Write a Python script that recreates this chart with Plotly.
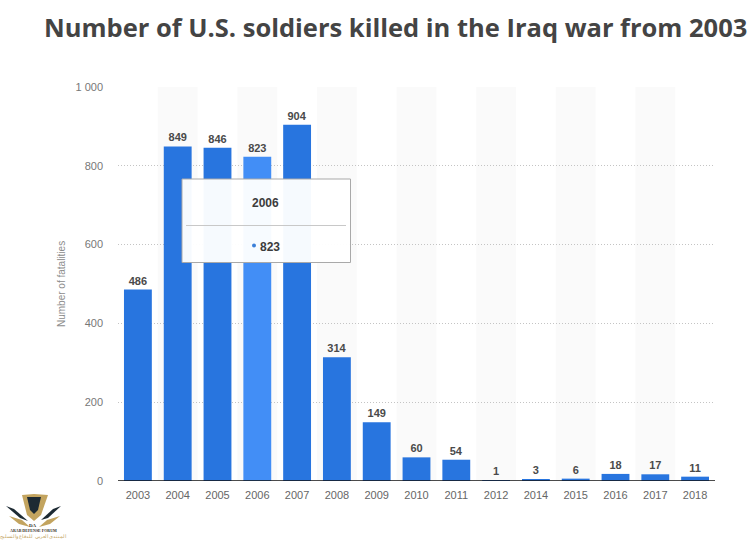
import plotly.graph_objects as go

years = ["2003", "2004", "2005", "2006", "2007", "2008", "2009", "2010", "2011", "2012", "2014", "2015", "2016", "2017", "2018"]
fatalities = [486, 849, 846, 823, 904, 314, 149, 60, 54, 1, 3, 6, 18, 17, 11]
y_ticks = [0, 200, 400, 600, 800, 1000]
y_labels = ["0", "200", "400", "600", "800", "1 000"]
highlight_year = "2006"
highlight_value = 823
title_text = "Number of U.S. soldiers killed in the Iraq war from 2003"

W, H = 747, 541
L, R, T, B = 118, 715, 87, 481
PW, PH = R - L, B - T


def px(x):
    return (x - L) / PW


def py(y):
    return (B - y) / PH


BAR = "#2875DF"
HI = "#428EF6"
colors = [HI if y == highlight_year else BAR for y in years]

fig = go.Figure(go.Bar(
    x=years, y=fatalities, width=0.7, marker=dict(color=colors, line_width=0),
    text=[str(v) for v in fatalities], textposition="outside", cliponaxis=False,
    textfont=dict(family="Liberation Sans", size=11, color="#4a4a4a", weight="bold"),
    hoverinfo="skip",
))

shapes = []
for i, y in enumerate(years):
    if i % 2 == 1:
        shapes.append(dict(type="rect", xref="x", yref="paper", x0=i - 0.5, x1=i + 0.5, y0=0, y1=1,
                           fillcolor="#fafafa", line_width=0, layer="below"))


def rect(x0, y0, x1, y1, **kw):
    return dict(type="rect", xref="paper", yref="paper", x0=px(x0), x1=px(x1), y0=py(y1), y1=py(y0), **kw)


def path(points, color):
    d = "M" + " L".join(f"{px(a):.5f},{py(b):.5f}" for a, b in points) + " Z"
    return dict(type="path", xref="paper", yref="paper", path=d, fillcolor=color, line_width=0)


# baseline drawn over the bars
shapes.append(dict(type="line", xref="paper", yref="y", x0=0, x1=1, y0=0, y1=0,
                   line=dict(color="#111111", width=1.5)))

shapes.append(rect(182, 179, 350.5, 262.5, fillcolor="rgba(255,255,255,0.96)", line=dict(color="#a9a9a9", width=1)))
shapes.append(dict(type="line", xref="paper", yref="paper", x0=px(186), x1=px(346), y0=py(225.5), y1=py(225.5),
                   line=dict(color="#c8c8c8", width=1)))
shapes.append(dict(type="circle", xref="paper", yref="paper", x0=px(252), x1=px(256), y0=py(247.5), y1=py(243.5),
                   fillcolor="#3b7fd8", line_width=0))

# forum logo
GOLD = "#c3a45f"
DARK = "#1d2a33"
shapes += [
    path([(22, 495), (34, 494), (48, 495), (41, 515), (34, 521), (27, 515)], GOLD),
    path([(27, 497), (41, 497), (38, 510), (34, 514), (30, 510)], DARK),
    path([(6, 506), (14, 509), (28, 521), (20, 518)], DARK),
    path([(61, 506), (53, 509), (41, 520), (48, 518)], DARK),
    path([(9, 516), (22, 520), (30, 527), (19, 524)], GOLD),
    path([(60, 516), (47, 520), (39, 527), (50, 524)], GOLD),
]


def note(x, y, text, family, size, color, xanchor="center", **kw):
    return dict(xref="paper", yref="paper", x=px(x), y=py(y), text=text, showarrow=False,
                xanchor=xanchor, yanchor="middle", font=dict(family=family, size=size, color=color), **kw)


annotations = [
    note(265.5, 203, "<b>2006</b>", "Liberation Sans", 12, "#3c3c3c"),
    note(269.5, 246.5, f"<b>{highlight_value}</b>", "Liberation Sans", 12, "#3c3c3c"),
    note(33, 525, "<b>DA</b>", "Liberation Serif", 5, "#33302a"),
    note(33, 530, "<b>ARAB DEFENSE FORUM</b>", "Liberation Serif", 4, "#33302a"),
    note(33, 536, "المنتدى العربي للدفاع والتسليح", "Noto Sans", 5, "#c3a45f"),
    note(42, 27, f"<b>{title_text}</b>", "Open Sans", 25.5, "#444444", xanchor="left"),
    note(61, 284, "Number of fatalities", "Liberation Sans", 10, "#8c8c8c", textangle=-90),
]

fig.update_layout(
    width=W, height=H, autosize=False, showlegend=False,
    margin=dict(l=L, r=W - R, t=T, b=H - B, pad=0),
    paper_bgcolor="white", plot_bgcolor="white",
    shapes=shapes, annotations=annotations,
    font=dict(family="Liberation Sans"),
    xaxis=dict(type="category", categoryorder="array", categoryarray=years, tickmode="array",
               tickvals=years, ticktext=years, range=[-0.5, len(years) - 0.5], showgrid=False, ticks="",
               ticklabelstandoff=6, showline=False,
               tickfont=dict(size=11, color="#666666"), zeroline=False),
    yaxis=dict(range=[0, 1000], tickmode="array", tickvals=y_ticks, ticktext=y_labels,
               gridcolor="#c4c4c4", griddash="1px,2px", gridwidth=1, zeroline=False, ticks="",
               ticklabelstandoff=14,
               tickfont=dict(size=11, color="#777777")),
)

fig.write_html("out.html", config=dict(displayModeBar=False), post_script="document.body.style.margin='0';")
